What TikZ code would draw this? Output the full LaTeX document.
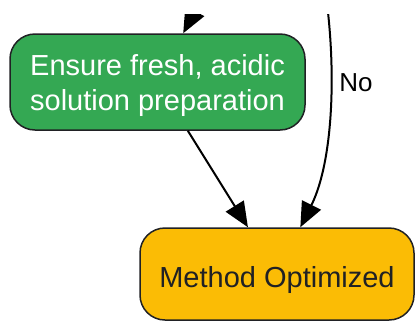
\documentclass[tikz,border=0pt]{standalone}
\usepackage{fontspec}
\setmainfont{Liberation Sans}
\usetikzlibrary{arrows.meta}
\definecolor{stepgreen}{HTML}{34A853}
\definecolor{doneyellow}{HTML}{FBBC05}
\definecolor{edgegray}{HTML}{202124}

\begin{document}
\begin{tikzpicture}[x=1pt, y=-1pt,
  box/.style={rectangle, rounded corners=25pt, draw=edgegray, line width=1.5pt, align=center, text depth=0pt, font=\fontsize{29}{35}\selectfont},
  flow/.style={black, line width=2pt, -{Triangle[length=25pt, width=21pt]}}]
  \useasboundingbox (0,0) rectangle (415,322);
  \clip (0,14) rectangle (415,322);
  \node[box, fill=stepgreen, text=white, minimum width=295pt, minimum height=96pt] (ensure) at (157.5,82) {Ensure fresh, acidic\\solution preparation};
  \node[box, fill=doneyellow, text=edgegray, text height=26pt, minimum width=274pt, minimum height=92pt] (done) at (277,274) {Method Optimized};
  \coordinate (fromabove) at (215,-27);
  \coordinate (noabove) at (322,-30);
  \draw[flow] (fromabove) -- (ensure);
  \draw[flow] (ensure) -- (done);
  \draw[flow] (noabove) .. controls (338,60) and (334,160) .. node[pos=0.41, right, xshift=4pt, font=\fontsize{26}{31}\selectfont] {No} (done);
\end{tikzpicture}
\end{document}
